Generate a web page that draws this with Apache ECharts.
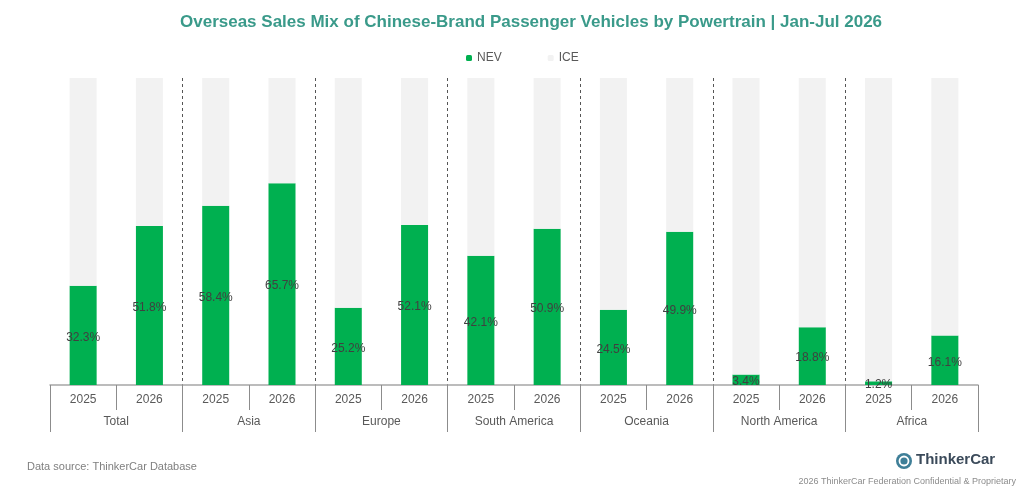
<!DOCTYPE html>
<html>
<head>
<meta charset="utf-8">
<script src="https://cdn.jsdelivr.net/npm/echarts@6/dist/echarts.min.js"></script>
<style>
  html, body { margin: 0; padding: 0; background: #fff; }
  #main { width: 1024px; height: 500px; }
</style>
</head>
<body>
<div id="main"></div>
<script>
var chart = echarts.init(document.getElementById('main'));

// regions and years
var groups = ['Total', 'Asia', 'Europe', 'South America', 'Oceania', 'North America', 'Africa'];
var years = ['2025', '2026'];

// share of sales, %
var nev = [32.3, 51.8, 58.4, 65.7, 25.2, 52.1, 42.1, 50.9, 24.5, 49.9, 3.4, 18.8, 1.2, 16.1];
var ice = [67.7, 48.2, 41.6, 34.3, 74.8, 47.9, 57.9, 49.1, 75.5, 50.1, 96.6, 81.2, 98.8, 83.9];

var cats = [];
groups.forEach(function (g) {
  years.forEach(function (y) { cats.push(g + '|' + y); });
});

var font = 'Liberation Sans, Arial, sans-serif';
var green = '#00b050';
var grey = '#f2f2f2';

var option = {
  textStyle: { fontFamily: font },
  title: {
    text: 'Overseas Sales Mix of Chinese-Brand Passenger Vehicles by Powertrain | Jan-Jul 2026',
    left: 175,
    top: 9,
    textStyle: { fontSize: 17, fontWeight: 'bold', color: '#3a9a8a', fontFamily: font }
  },
  legend: {
    top: 47,
    left: 461,
    itemWidth: 6,
    itemHeight: 6,
    itemGap: 46,
    textStyle: { fontSize: 12, color: '#595959', fontFamily: font },
    data: ['NEV', 'ICE']
  },
  grid: { left: 50, right: 46, top: 78, bottom: 115 },
  xAxis: [
    {
      type: 'category',
      data: cats,
      position: 'bottom',
      axisLine: { lineStyle: { color: '#a6a6a6', width: 1.5 } },
      axisTick: { show: true, length: 25, interval: 0, lineStyle: { color: '#8c8c8c' } },
      axisLabel: {
        interval: 0, margin: 9, fontSize: 12, color: '#595959',
        formatter: function (v) { return v.split('|')[1]; }
      }
    },
    {
      type: 'category',
      data: groups,
      position: 'bottom',
      axisLine: { show: false },
      axisTick: { show: true, length: 47, interval: 0, lineStyle: { color: '#8c8c8c' } },
      axisLabel: { interval: 0, margin: 31, fontSize: 12, color: '#595959' },
      splitLine: {
        show: true, interval: 0, showMinLine: false, showMaxLine: false,
        lineStyle: { color: '#555', type: [3, 3], width: 1 }
      }
    }
  ],
  yAxis: { type: 'value', min: 0, max: 100, show: false },
  series: [
    {
      name: 'NEV',
      type: 'bar',
      stack: 'mix',
      barWidth: 27,
      data: nev,
      itemStyle: { color: green },
      label: {
        show: true,
        position: 'inside',
        offset: [0, 2],
        fontSize: 12,
        color: '#404040',
        fontFamily: font,
        formatter: function (p) { return p.value.toFixed(1) + '%'; }
      }
    },
    {
      name: 'ICE',
      type: 'bar',
      stack: 'mix',
      barWidth: 27,
      data: ice,
      itemStyle: { color: grey }
    }
  ],
  graphic: [
    {
      type: 'text', left: 27, top: 461,
      style: { text: 'Data source: ThinkerCar Database', fontSize: 11, fill: '#7f7f7f', fontFamily: font }
    },
    {
      type: 'circle', shape: { cx: 904, cy: 461, r: 8 },
      style: { fill: '#3f7f98' }
    },
    {
      type: 'circle', shape: { cx: 904, cy: 461, r: 4.5 },
      style: { fill: 'none', stroke: '#fff', lineWidth: 1.8 }
    },
    {
      type: 'text', left: 916, top: 452,
      style: { text: 'ThinkerCar', fontSize: 15, fontWeight: 'bold', fill: '#3b4a5a', fontFamily: font }
    },
    {
      type: 'text', right: 8, top: 477,
      style: { text: '2026 ThinkerCar Federation Confidential & Proprietary', fontSize: 9, fill: '#8c8c8c', fontFamily: font }
    }
  ]
};

chart.setOption(option);
</script>
</body>
</html>
